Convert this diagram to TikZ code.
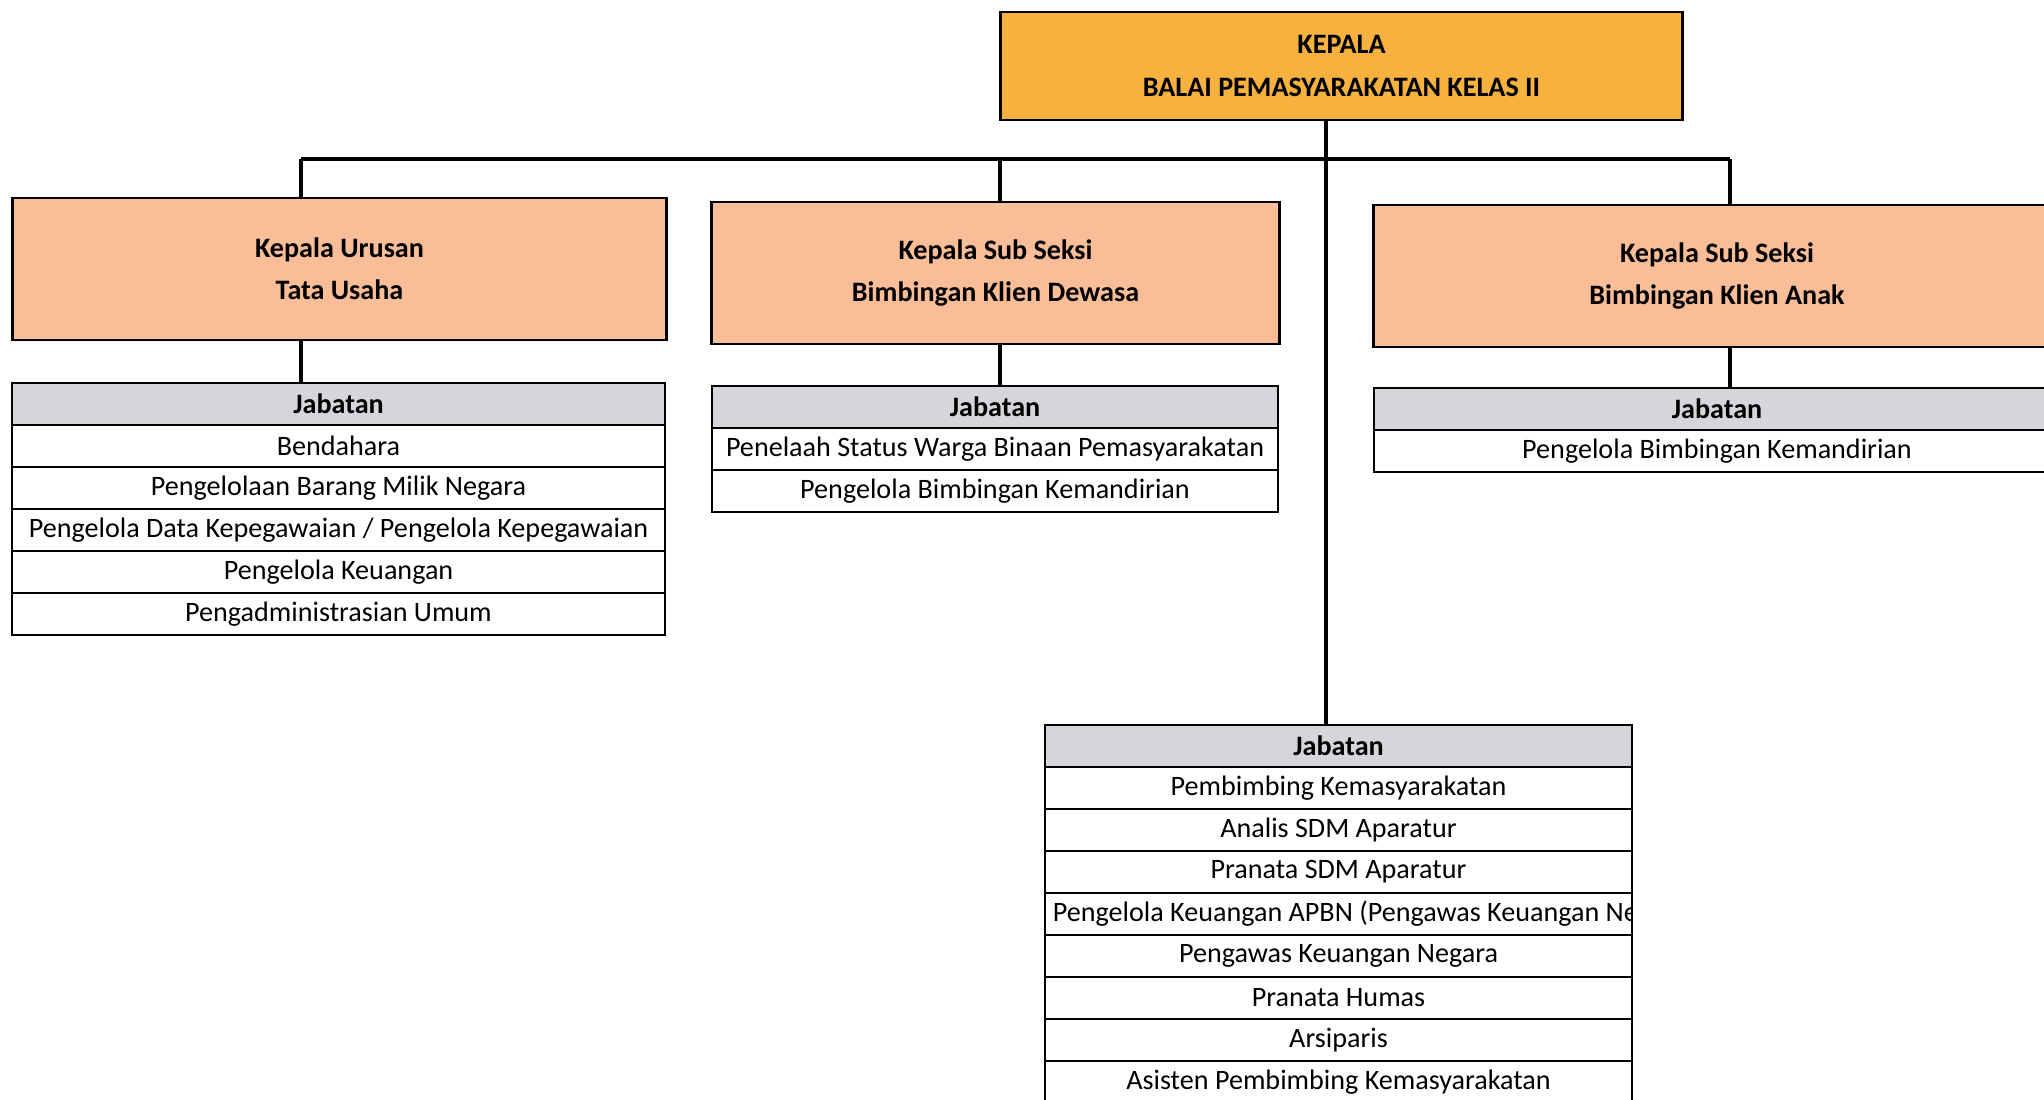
\documentclass[tikz,border=0pt]{standalone}
\usepackage{fontspec}
\setmainfont{Carlito}
\usetikzlibrary{positioning}
\definecolor{kepalaorange}{HTML}{F7B13E}
\definecolor{unitsalmon}{HTML}{F9BD97}
\definecolor{headgray}{HTML}{D4D6DA}
\tikzset{
    kepala/.style = {rectangle, draw=black, line width=0.8pt, fill=kepalaorange, align=center, inner sep=0pt, outer sep=0pt, font=\fontsize{8}{12}\selectfont\bfseries},
    unit/.style = {rectangle, draw=black, line width=0.8pt, fill=unitsalmon, align=center, minimum height=1.42cm, inner sep=0pt, outer sep=0pt, font=\fontsize{8}{12}\selectfont\bfseries},
    jabhead/.style = {rectangle, draw=black, line width=0.7pt, fill=headgray, minimum height=0.42cm, inner sep=0pt, outer sep=0pt, font=\fontsize{8}{10}\selectfont\bfseries},
    jabrow/.style = {rectangle, draw=black, line width=0.7pt, fill=white, minimum height=0.42cm, inner sep=0pt, outer sep=0pt, font=\fontsize{8}{10}\selectfont},
    link/.style = {line width=1.2pt}
}

\begin{document}
\begin{tikzpicture}[x=0.01cm, y=-0.01cm]
    \useasboundingbox (0,0) rectangle (2044,1099);
    \clip (0,0) rectangle (2044,1099);
    \fill[white] (0,0) rectangle (2044,1099);

    % kepala dan kepala urusan/sub seksi
    \node[kepala, minimum width=6.81cm, minimum height=1.08cm] (kepala) at (1341.5,66) {KEPALA\\BALAI PEMASYARAKATAN KELAS II};
    \node[unit, minimum width=6.53cm] (tu) at (339.5,269) {Kepala Urusan\\Tata Usaha};
    \node[unit, minimum width=5.67cm] (dewasa) at (995.5,273) {Kepala Sub Seksi\\Bimbingan Klien Dewasa};
    \node[unit, minimum width=6.86cm] (anak) at (1717,276) {Kepala Sub Seksi\\Bimbingan Klien Anak};

    % tabel jabatan
    \node[jabhead, minimum width=6.53cm] (t1h) at (338.5,404) {Jabatan};
    \foreach \txt [count=\i] in {Bendahara, Pengelolaan Barang Milik Negara, Pengelola Data Kepegawaian / Pengelola Kepegawaian, Pengelola Keuangan, Pengadministrasian Umum}
        \node[jabrow, minimum width=6.53cm] (t1r\i) at (338.5,{404+42*\i}) {\txt};

    \node[jabhead, minimum width=5.66cm] (t2h) at (995,407) {Jabatan};
    \foreach \txt [count=\i] in {Penelaah Status Warga Binaan Pemasyarakatan, Pengelola Bimbingan Kemandirian}
        \node[jabrow, minimum width=5.66cm] (t2r\i) at (995,{407+42*\i}) {\txt};

    \node[jabhead, minimum width=6.86cm] (t3h) at (1717,409) {Jabatan};
    \node[jabrow, minimum width=6.86cm] (t3r1) at (1717,451) {Pengelola Bimbingan Kemandirian};

    \node[jabhead, minimum width=5.87cm] (t4h) at (1338.5,746) {Jabatan};
    \foreach \txt [count=\i] in {Pembimbing Kemasyarakatan, Analis SDM Aparatur, Pranata SDM Aparatur, {}, Pengawas Keuangan Negara, Pranata Humas, Arsiparis, Asisten Pembimbing Kemasyarakatan}
        \node[jabrow, minimum width=5.87cm] (t4r\i) at (1338.5,{746+42*\i}) {\txt};
    \begin{scope}
        \clip (t4r4.south west) rectangle (t4r4.north east);
        \node[jabrow, draw=none, fill=none, anchor=west] (t4long) at ([xshift=0.08cm]t4r4.west) {Pengelola Keuangan APBN (Pengawas Keuangan Ne};
    \end{scope}

    % garis
    \coordinate (b1) at (301,159);
    \coordinate (b2) at (1000,159);
    \coordinate (b3) at (1730,159);
    \coordinate (trunk) at (1326,159);
    \draw[link] (b1) -- (b3);
    \draw[link] (kepala.south -| trunk) -- (trunk |- t4h.north);
    \draw[link] (b1) -- (b1 |- tu.north);
    \draw[link] (b2) -- (b2 |- dewasa.north);
    \draw[link] (b3) -- (b3 |- anak.north);
    \draw[link] (tu.south -| b1) -- (b1 |- t1h.north);
    \draw[link] (dewasa.south -| b2) -- (b2 |- t2h.north);
    \draw[link] (anak.south -| b3) -- (b3 |- t3h.north);
\end{tikzpicture}
\end{document}
